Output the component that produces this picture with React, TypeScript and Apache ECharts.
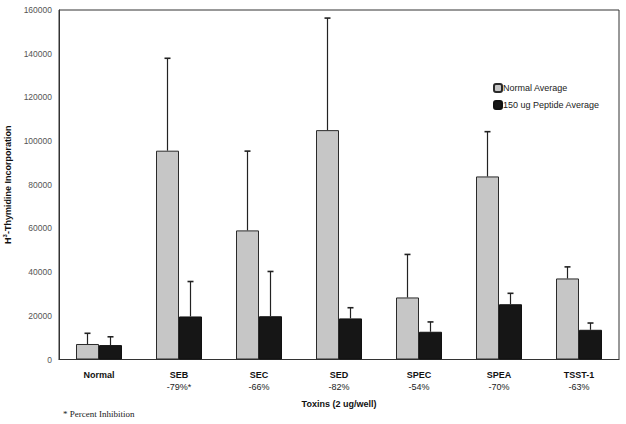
import React, { useEffect, useRef } from "react";
import * as echarts from "echarts";

const categories = ["Normal", "SEB", "SEC", "SED", "SPEC", "SPEA", "TSST-1"];
const inhibition = ["", "-79%*", "-66%", "-82%", "-54%", "-70%", "-63%"];
const normalAvg = [7100, 95600, 59100, 105000, 28400, 83800, 37100];
const normalTop = [12000, 137900, 95400, 156300, 48100, 104300, 42400];
const peptideAvg = [6600, 19700, 19800, 18800, 12700, 25300, 13600];
const peptideTop = [10400, 35700, 40300, 23700, 17200, 30300, 16700];
const yTicks = { min: 0, max: 160000, interval: 20000 };

const CAT_GAP = 0.425;

function errorSeries(tops: number[], side: number) {
  return {
    type: "custom",
    silent: true,
    z: 5,
    data: tops.map((t, i) => [i, t]),
    renderItem: (params: any, api: any) => {
      const i = api.value(0);
      const top = api.value(1);
      const base = side < 0 ? normalAvg[i] : peptideAvg[i];
      const catW = api.size([1, 0])[0];
      const barW = (catW * (1 - CAT_GAP)) / 2;
      const pTop = api.coord([i, top]);
      const pBase = api.coord([i, base]);
      const x = pTop[0] + (side * barW) / 2;
      const style = { stroke: "#222", lineWidth: 1.2 };
      return {
        type: "group",
        children: [
          { type: "line", shape: { x1: x, y1: pTop[1], x2: x, y2: pBase[1] }, style },
          { type: "line", shape: { x1: x - 3, y1: pTop[1], x2: x + 3, y2: pTop[1] }, style: { stroke: "#222", lineWidth: 1.6 } },
        ],
      };
    },
  };
}

export default function App() {
  const ref = useRef<HTMLDivElement>(null);
  useEffect(() => {
    const chart = echarts.init(ref.current!, null, { renderer: "svg" });
    chart.setOption({
      animation: false,
      backgroundColor: "#ffffff",
      textStyle: { fontFamily: "Liberation Sans, Arial, sans-serif" },
      grid: {
        left: 59,
        right: 7,
        top: 10,
        bottom: 64.5,
        containLabel: false,
        outerBoundsMode: "none",
        show: true,
        borderColor: "#333",
        borderWidth: 1,
      },
      legend: {
        orient: "vertical",
        left: 488,
        top: 78,
        itemWidth: 8,
        itemHeight: 8,
        itemGap: 7,
        textStyle: { fontSize: 9, color: "#222", padding: [0, 0, 0, -4], fontFamily: "Liberation Sans, Arial, sans-serif" },
        data: ["Normal Average", "150 ug Peptide Average"],
      },
      xAxis: {
        type: "category",
        data: categories,
        name: "Toxins (2 ug/well)",
        nameLocation: "middle",
        nameGap: 40,
        nameMoveOverlap: false,
        nameTextStyle: { fontSize: 9, fontWeight: "bold", color: "#111" },
        axisLine: { lineStyle: { color: "#333", width: 1 } },
        axisTick: { show: false },
        axisLabel: {
          margin: 9,
          interval: 0,
          formatter: (v: string, idx: number) =>
            inhibition[idx] ? `{b|${v}}\n{p|${inhibition[idx]}}` : `{b|${v}}`,
          rich: {
            b: { fontSize: 9, fontWeight: "bold", color: "#111", lineHeight: 12 },
            p: { fontSize: 9, color: "#222", lineHeight: 12 },
          },
        },
      },
      yAxis: {
        type: "value",
        min: yTicks.min,
        max: yTicks.max,
        interval: yTicks.interval,
        name: "H{s|3}-Thymidine Incorporation",
        nameLocation: "middle",
        nameGap: 46,
        nameMoveOverlap: false,
        nameTextStyle: {
          fontSize: 9,
          fontWeight: "bold",
          color: "#111",
          rich: { s: { fontSize: 6, fontWeight: "bold", color: "#111", verticalAlign: "top", padding: [0, 0, 5, 0] } },
        },
        splitLine: { show: false },
        axisTick: { show: false },
        axisLine: { show: true, lineStyle: { color: "#333", width: 1 } },
        axisLabel: { fontSize: 8.5, color: "#555", margin: 7, formatter: (v: number) => String(v) },
      },
      series: [
        {
          name: "Normal Average",
          type: "bar",
          data: normalAvg,
          barGap: "0%",
          barCategoryGap: "42.5%",
          itemStyle: { color: "#c6c6c6", borderColor: "#2a2a2a", borderWidth: 1 },
        },
        {
          name: "150 ug Peptide Average",
          type: "bar",
          data: peptideAvg,
          barGap: "0%",
          barCategoryGap: "42.5%",
          itemStyle: { color: "#161616", borderColor: "#111", borderWidth: 1 },
        },
        errorSeries(normalTop, -1),
        errorSeries(peptideTop, 1),
      ],
      graphic: [
        {
          type: "text",
          left: 63,
          top: 409,
          style: { text: "* Percent Inhibition", fontFamily: "Liberation Serif, Times New Roman, serif", fontSize: 9, fill: "#222" },
        },
      ],
    });
    return () => chart.dispose();
  }, []);
  return <div ref={ref} style={{ width: 626, height: 424, position: "absolute", left: 0, top: 0 }} />;
}
